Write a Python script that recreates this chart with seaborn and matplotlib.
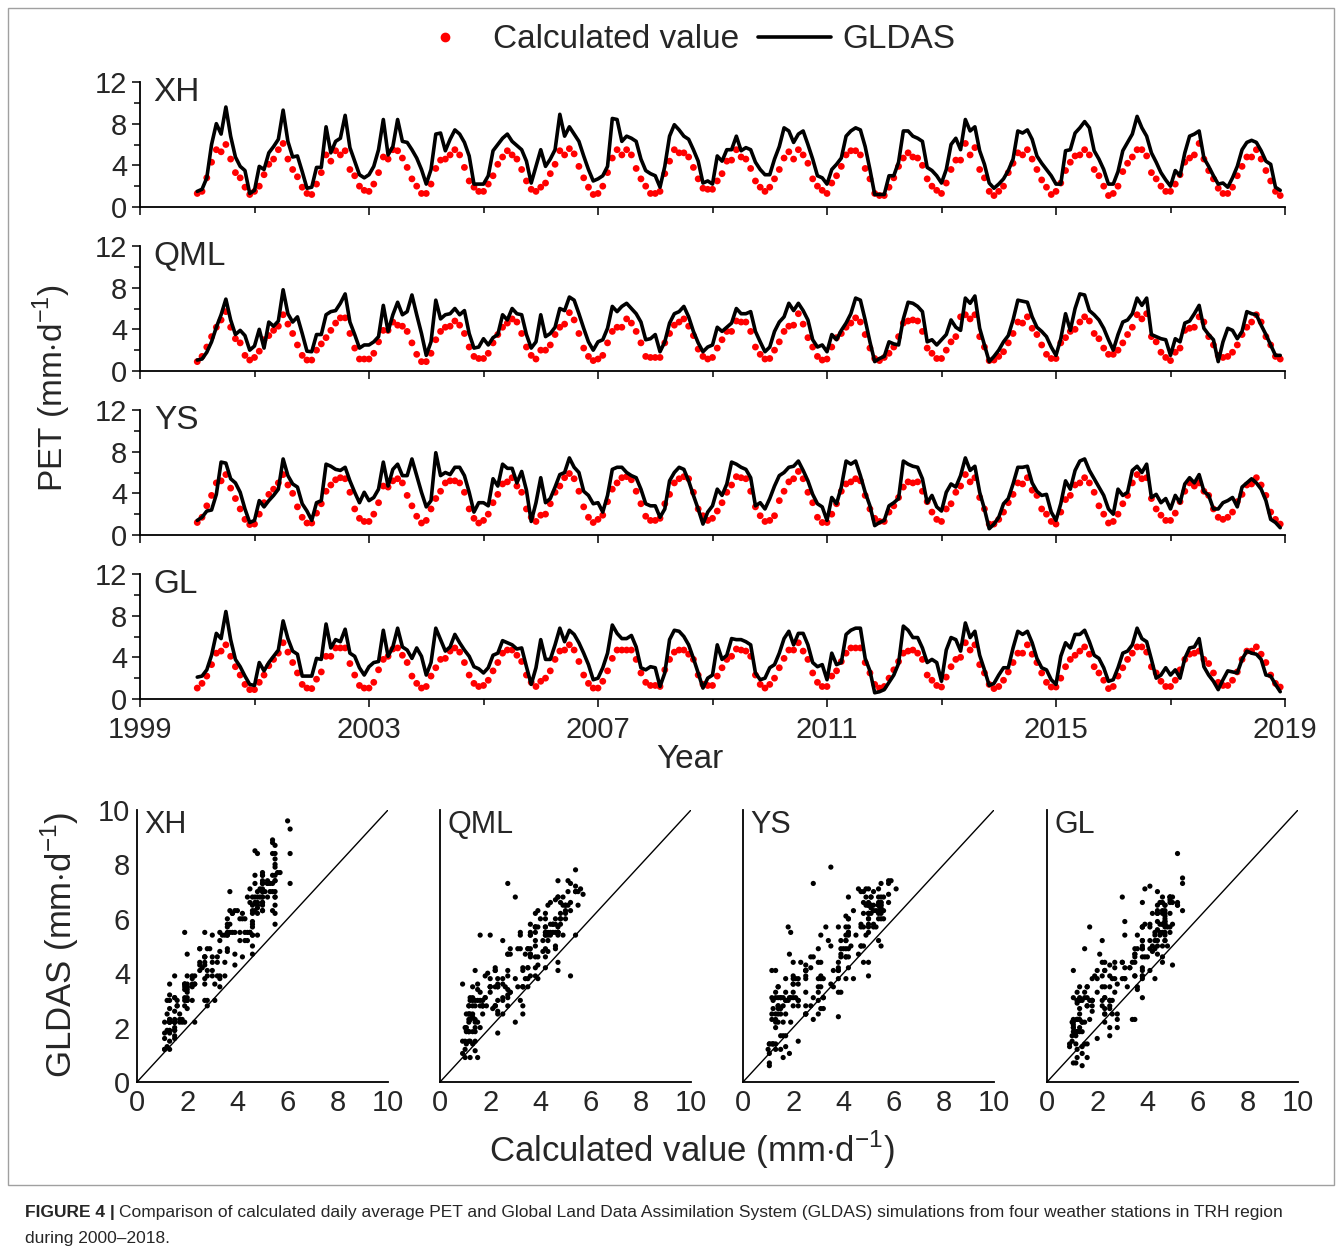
import numpy as np
import pandas as pd
import matplotlib
matplotlib.use("Agg")
import matplotlib.pyplot as plt
from matplotlib.lines import Line2D
from matplotlib.patches import Rectangle
import seaborn as sns

# Monthly PET (mm/d), Jan 2000 - Dec 2018, one row per year
stations = ["XH", "QML", "YS", "GL"]
first_year = 2000

xh_calc = [
    1.3, 1.5, 2.8, 4.3, 5.5, 5.3, 6.0, 4.6, 3.3, 2.8, 1.9, 1.2,
    1.5, 2.0, 3.1, 4.1, 4.6, 5.5, 6.1, 4.6, 3.6, 2.9, 1.9, 1.3,
    1.2, 2.2, 3.3, 5.0, 4.4, 5.4, 5.0, 5.4, 3.6, 3.0, 2.0, 1.6,
    1.5, 2.2, 3.3, 4.8, 4.6, 5.5, 5.4, 4.7, 3.8, 2.7, 2.0, 1.3,
    1.3, 2.2, 3.7, 4.5, 4.6, 5.0, 5.5, 5.0, 3.8, 2.5, 1.9, 1.5,
    1.5, 2.2, 3.0, 4.1, 4.8, 5.4, 5.0, 4.6, 3.6, 2.5, 1.7, 1.5,
    1.9, 2.3, 3.2, 4.1, 5.4, 5.0, 5.6, 5.1, 3.9, 2.8, 1.9, 1.2,
    1.3, 2.0, 3.3, 4.7, 5.5, 5.0, 5.5, 5.0, 3.7, 2.7, 2.0, 1.3,
    1.3, 1.5, 3.2, 4.4, 5.5, 5.2, 5.2, 4.8, 3.8, 2.7, 1.8, 1.7,
    1.7, 2.5, 3.2, 4.4, 4.5, 5.5, 4.8, 4.6, 3.7, 2.5, 1.9, 1.5,
    1.9, 2.7, 3.6, 4.7, 5.3, 4.6, 5.5, 5.0, 4.2, 2.7, 2.0, 1.6,
    1.3, 2.3, 3.0, 3.9, 5.0, 5.4, 5.4, 5.0, 3.7, 2.7, 1.3, 1.1,
    1.1, 1.9, 2.8, 3.9, 4.7, 5.2, 4.8, 4.7, 4.0, 2.7, 2.0, 1.6,
    1.3, 2.3, 3.6, 4.5, 4.5, 6.1, 5.0, 5.7, 3.6, 2.8, 1.5, 1.1,
    1.5, 2.0, 3.3, 4.2, 5.2, 5.0, 5.5, 4.6, 3.6, 2.6, 1.9, 1.2,
    1.5, 2.3, 3.5, 4.3, 4.9, 5.0, 5.5, 5.0, 3.6, 3.0, 2.0, 1.1,
    1.3, 2.0, 3.4, 4.2, 4.8, 5.5, 5.5, 4.9, 3.3, 2.7, 2.0, 1.5,
    1.5, 2.2, 3.1, 4.3, 4.7, 5.0, 6.1, 4.6, 3.5, 2.7, 1.8, 1.3,
    1.3, 1.9, 3.0, 3.9, 4.8, 4.8, 5.5, 4.6, 3.5, 2.5, 1.5, 1.1,
]
xh_gldas = [
    1.5, 1.7, 2.8, 6.0, 8.0, 7.0, 9.6, 6.8, 4.8, 3.9, 3.5, 1.3,
    1.6, 3.9, 3.6, 5.2, 5.8, 6.5, 9.3, 6.3, 4.8, 4.9, 3.4, 1.8,
    1.9, 3.8, 3.8, 7.7, 5.2, 6.3, 6.6, 8.8, 5.7, 4.4, 3.1, 2.8,
    3.1, 3.9, 5.5, 8.4, 5.0, 5.8, 8.4, 6.3, 6.2, 5.5, 4.7, 3.6,
    2.2, 3.6, 7.0, 7.1, 5.4, 6.5, 7.4, 7.0, 6.2, 4.9, 2.2, 2.2,
    2.2, 3.0, 5.4, 6.0, 6.6, 7.0, 6.3, 5.9, 5.5, 4.4, 2.3, 3.9,
    5.5, 3.9, 4.6, 5.5, 8.9, 6.8, 7.7, 7.0, 6.3, 4.9, 3.6, 2.5,
    2.7, 3.0, 3.9, 8.5, 8.4, 6.3, 6.8, 6.6, 6.3, 4.6, 3.5, 3.2,
    3.0, 1.9, 3.9, 6.8, 7.9, 7.4, 6.8, 6.5, 5.5, 4.4, 2.3, 2.5,
    2.2, 4.9, 4.4, 5.5, 5.5, 6.8, 5.4, 5.7, 5.5, 4.3, 3.6, 3.1,
    3.1, 4.6, 5.8, 7.6, 7.3, 6.2, 7.0, 7.3, 6.0, 4.6, 3.0, 2.8,
    2.2, 3.6, 4.1, 4.7, 6.8, 7.3, 7.6, 7.4, 5.8, 3.6, 1.2, 1.2,
    1.2, 3.0, 3.0, 4.3, 7.3, 7.3, 6.8, 6.6, 6.3, 3.8, 3.5, 3.0,
    2.3, 3.6, 6.0, 6.6, 5.5, 8.4, 7.3, 7.7, 5.4, 4.1, 2.3, 1.8,
    2.2, 2.7, 3.5, 4.6, 7.3, 7.1, 7.4, 6.5, 4.9, 4.2, 3.6, 3.0,
    2.2, 2.2, 5.4, 5.5, 7.1, 7.6, 8.2, 7.6, 5.4, 4.6, 3.6, 2.2,
    2.2, 3.4, 5.4, 6.2, 7.0, 8.7, 7.6, 6.8, 5.2, 4.3, 3.3, 2.6,
    2.0, 3.5, 3.0, 5.2, 6.8, 7.0, 7.3, 4.7, 3.9, 3.0, 2.2, 2.3,
    1.9, 2.8, 3.9, 5.5, 6.2, 6.4, 6.2, 5.4, 4.4, 4.1, 1.9, 1.6,
]
qml_calc = [
    0.9, 1.4, 2.3, 3.3, 4.2, 4.9, 5.7, 4.2, 3.1, 2.7, 1.5, 1.05,
    1.3, 1.9, 3.0, 3.4, 3.9, 4.3, 5.4, 4.5, 3.6, 2.5, 1.5, 1.05,
    1.05, 2.0, 2.6, 3.2, 3.9, 4.6, 5.1, 5.1, 3.6, 2.2, 1.15, 1.15,
    1.15, 1.7, 2.8, 3.9, 3.9, 4.7, 4.4, 4.3, 3.8, 2.7, 1.6, 0.9,
    0.9, 1.7, 3.0, 3.8, 4.2, 4.3, 4.8, 4.4, 3.6, 2.3, 1.4, 1.2,
    1.2, 1.7, 2.7, 3.5, 4.2, 4.6, 5.0, 4.7, 3.6, 2.3, 1.5, 1.15,
    2.0, 2.0, 2.5, 3.5, 4.2, 4.5, 5.6, 4.9, 3.6, 2.2, 1.4, 1.0,
    1.15, 1.5, 2.7, 3.8, 4.2, 4.2, 5.0, 4.6, 3.8, 2.7, 1.4, 1.3,
    1.3, 1.3, 2.7, 3.6, 4.4, 4.7, 5.0, 4.3, 3.4, 2.1, 1.4, 1.15,
    1.3, 2.2, 3.0, 3.8, 3.8, 4.8, 4.7, 4.7, 3.8, 2.3, 1.6, 1.15,
    1.2, 2.0, 2.8, 3.8, 4.3, 4.4, 5.5, 4.5, 3.2, 2.3, 1.4, 1.05,
    1.15, 2.3, 3.2, 3.6, 4.2, 4.6, 5.1, 4.7, 3.5, 2.2, 1.2, 1.0,
    1.3, 1.7, 2.3, 3.3, 4.6, 4.8, 4.9, 4.8, 3.8, 2.2, 1.7, 1.2,
    1.2, 2.0, 2.8, 3.3, 5.2, 5.4, 5.0, 5.4, 3.3, 2.3, 1.0, 1.05,
    1.4, 1.85, 2.7, 3.6, 4.7, 4.6, 5.2, 4.1, 3.5, 2.5, 1.6, 1.2,
    1.2, 2.7, 3.2, 3.8, 4.0, 4.7, 5.2, 4.8, 3.6, 3.1, 2.2, 1.6,
    1.6, 2.0, 2.7, 3.5, 4.2, 5.4, 5.0, 5.5, 3.3, 2.8, 1.8, 1.3,
    1.0, 1.8, 2.2, 3.9, 4.1, 4.2, 5.2, 4.7, 3.3, 2.5, 1.5, 1.3,
    1.4, 1.8, 2.5, 3.5, 4.2, 4.7, 5.4, 4.7, 3.3, 2.5, 1.4, 1.15,
]
qml_gldas = [
    1.05, 1.15, 1.8, 2.8, 4.2, 5.4, 6.9, 4.9, 3.5, 3.9, 3.4, 2.0,
    2.4, 4.0, 2.2, 4.7, 4.3, 4.8, 7.8, 5.5, 4.7, 5.2, 3.6, 1.9,
    1.85, 3.5, 3.5, 5.4, 5.7, 5.8, 6.5, 7.4, 4.7, 3.5, 2.2, 2.5,
    2.5, 2.8, 3.3, 6.3, 3.8, 5.4, 6.6, 5.4, 5.7, 7.3, 5.4, 3.6,
    1.5, 2.8, 6.8, 5.0, 5.4, 5.5, 6.0, 5.4, 5.8, 3.6, 2.2, 2.3,
    3.1, 2.5, 3.2, 3.5, 5.4, 4.9, 6.0, 5.5, 5.4, 3.5, 2.2, 2.8,
    5.4, 3.3, 3.6, 4.2, 6.0, 5.8, 7.1, 6.8, 5.5, 4.1, 2.8, 2.0,
    2.8, 3.0, 4.1, 6.2, 5.7, 6.2, 6.5, 6.0, 5.5, 4.7, 3.0, 3.1,
    3.5, 1.85, 2.8, 4.6, 5.5, 5.7, 6.2, 5.2, 3.8, 2.7, 1.85, 2.3,
    2.5, 4.2, 3.8, 4.2, 4.6, 6.0, 5.5, 5.5, 5.7, 3.8, 2.8, 1.85,
    2.3, 3.8, 4.7, 5.2, 6.5, 5.8, 6.5, 5.8, 4.9, 3.0, 2.3, 2.5,
    1.85, 3.5, 3.0, 3.9, 4.6, 5.5, 7.0, 6.8, 4.9, 2.8, 0.9, 1.2,
    1.4, 2.8, 2.6, 2.5, 5.0, 6.6, 6.5, 6.2, 5.7, 2.8, 3.0, 2.5,
    3.0, 3.5, 4.9, 4.2, 3.9, 7.0, 6.5, 7.2, 4.1, 2.5, 0.9, 1.4,
    2.0, 2.8, 3.4, 4.9, 6.8, 6.7, 6.6, 5.2, 4.2, 3.8, 3.3, 2.3,
    1.5, 3.1, 5.5, 3.9, 6.0, 7.4, 7.3, 5.8, 5.4, 4.9, 4.1, 3.0,
    2.0, 3.5, 4.7, 4.9, 5.5, 7.0, 6.3, 7.0, 3.5, 3.3, 3.1, 3.0,
    1.5, 3.1, 2.8, 4.6, 4.8, 5.5, 6.3, 4.1, 3.5, 3.0, 0.9, 2.8,
    4.1, 3.9, 3.1, 3.8, 5.7, 5.5, 5.4, 4.4, 3.5, 2.5, 1.5, 1.5,
]
ys_calc = [
    1.2, 1.7, 2.8, 3.8, 5.0, 5.2, 5.8, 4.5, 3.5, 2.5, 1.5, 1.0,
    1.05, 2.0, 3.1, 3.9, 4.4, 5.0, 5.8, 4.8, 4.0, 2.7, 1.7, 1.15,
    1.15, 2.1, 3.0, 4.2, 4.8, 5.3, 5.5, 5.4, 4.1, 2.5, 1.6, 1.3,
    1.3, 2.0, 3.1, 4.7, 4.6, 5.2, 5.4, 5.0, 3.8, 2.8, 1.8, 1.15,
    1.4, 2.5, 3.5, 4.2, 5.0, 5.2, 5.2, 5.0, 4.1, 2.5, 1.6, 1.15,
    1.4, 2.0, 3.1, 3.9, 4.9, 5.1, 5.5, 4.7, 4.1, 2.5, 1.7, 1.3,
    1.9, 2.0, 3.0, 4.1, 4.7, 5.5, 5.9, 5.4, 4.2, 2.7, 1.7, 1.2,
    1.5, 1.9, 3.2, 4.4, 5.0, 5.5, 5.6, 5.3, 4.2, 3.0, 1.8, 1.4,
    1.4, 1.6, 3.0, 3.9, 5.0, 5.4, 5.6, 5.4, 4.1, 2.5, 1.85, 1.4,
    1.6, 2.3, 3.1, 4.1, 4.8, 5.6, 5.5, 5.4, 4.2, 2.7, 1.85, 1.3,
    1.4, 1.85, 3.3, 4.2, 5.1, 5.4, 6.1, 5.4, 4.1, 3.1, 1.7, 1.2,
    1.2, 2.0, 3.0, 4.2, 4.9, 5.1, 5.4, 5.2, 3.8, 2.5, 1.6, 1.3,
    1.3, 2.2, 2.8, 3.6, 4.6, 5.1, 5.0, 5.1, 4.2, 3.2, 2.2, 1.5,
    1.3, 2.5, 3.0, 4.1, 4.7, 5.8, 5.1, 5.5, 3.6, 2.5, 1.05, 1.05,
    1.5, 2.2, 3.1, 3.9, 5.0, 4.9, 5.5, 4.3, 3.8, 2.5, 2.0, 1.3,
    1.05, 2.2, 3.4, 3.8, 4.8, 5.0, 5.5, 5.0, 4.1, 2.8, 2.0, 1.15,
    1.3, 2.0, 3.0, 3.8, 5.0, 5.8, 5.4, 5.5, 3.5, 2.5, 1.9, 1.4,
    1.4, 2.1, 3.2, 4.2, 5.0, 4.7, 5.0, 4.2, 3.8, 2.5, 1.7, 1.5,
    1.7, 2.2, 3.2, 3.9, 4.8, 4.9, 5.5, 4.8, 3.8, 2.2, 1.5, 1.05,
]
ys_gldas = [
    1.4, 1.7, 2.3, 2.4, 3.9, 7.0, 6.9, 5.4, 5.0, 4.1, 2.5, 1.2,
    1.4, 3.3, 2.7, 3.3, 3.8, 4.4, 7.3, 5.7, 4.9, 4.6, 3.0, 2.3,
    1.4, 3.1, 3.3, 6.8, 6.6, 6.3, 6.2, 6.5, 5.2, 4.1, 3.1, 4.1,
    3.3, 3.6, 4.4, 7.0, 4.7, 6.3, 6.8, 5.7, 5.7, 7.3, 5.7, 4.1,
    2.7, 3.3, 7.9, 5.7, 6.0, 5.8, 6.5, 6.5, 5.7, 4.1, 2.2, 3.1,
    3.1, 2.8, 5.4, 4.7, 6.8, 6.4, 6.4, 5.0, 6.1, 4.3, 1.3, 3.1,
    5.5, 3.1, 3.5, 4.6, 5.8, 6.0, 7.4, 6.5, 6.0, 4.2, 3.8, 3.0,
    3.1, 2.2, 3.8, 6.3, 6.5, 6.5, 6.0, 5.7, 5.5, 4.4, 3.0, 2.8,
    2.8, 1.7, 2.5, 5.2, 6.0, 6.5, 6.3, 5.2, 3.8, 2.5, 1.05, 2.2,
    2.8, 4.4, 3.8, 4.9, 7.0, 6.8, 6.5, 6.3, 5.5, 2.8, 3.1, 2.5,
    3.5, 4.7, 5.7, 6.0, 6.5, 6.6, 7.1, 6.2, 5.2, 3.9, 3.0, 2.7,
    1.4, 3.6, 3.0, 4.6, 7.1, 6.8, 7.1, 5.7, 4.1, 2.8, 0.9, 1.2,
    1.4, 2.8, 3.1, 3.5, 7.1, 6.8, 6.6, 6.5, 5.4, 3.1, 3.8, 2.7,
    2.3, 4.1, 4.9, 4.6, 5.7, 7.4, 6.2, 6.6, 4.1, 2.5, 0.6, 1.05,
    1.7, 3.0, 3.5, 4.9, 6.5, 6.5, 6.6, 5.0, 4.2, 3.8, 3.9, 2.2,
    1.4, 3.0, 5.2, 4.4, 6.2, 7.1, 7.3, 6.2, 5.4, 4.6, 3.8, 2.5,
    2.0, 4.4, 3.8, 4.1, 6.2, 6.6, 6.0, 6.8, 3.6, 3.9, 3.1, 3.5,
    2.5, 3.8, 3.1, 4.9, 5.5, 5.0, 5.8, 4.2, 3.8, 2.5, 2.5, 3.1,
    3.3, 3.6, 2.7, 4.6, 5.0, 5.4, 5.0, 4.4, 3.3, 1.5, 1.2, 0.7,
]
gl_calc = [
    1.05, 1.5, 2.2, 3.3, 4.4, 4.6, 5.2, 4.1, 3.1, 2.3, 1.4, 0.9,
    0.9, 1.6, 2.3, 3.2, 3.8, 4.4, 5.4, 4.5, 3.5, 2.5, 1.4, 1.05,
    1.0, 1.9, 2.6, 4.1, 4.1, 4.9, 4.9, 4.9, 3.4, 2.3, 1.3, 1.05,
    1.05, 1.6, 2.8, 3.8, 4.1, 4.8, 4.9, 4.2, 3.5, 2.2, 1.5, 1.05,
    1.2, 2.2, 3.0, 3.8, 3.9, 4.6, 4.9, 4.5, 3.5, 2.3, 1.5, 1.2,
    1.3, 1.8, 2.7, 3.5, 4.4, 4.7, 4.7, 4.2, 3.6, 2.3, 1.6, 1.2,
    1.7, 2.0, 2.7, 3.8, 4.6, 4.7, 5.2, 4.7, 3.6, 2.3, 1.5, 1.05,
    1.05, 1.7, 2.7, 3.9, 4.7, 4.7, 4.7, 4.7, 3.8, 2.5, 1.6, 1.3,
    1.3, 1.2, 2.8, 3.8, 4.5, 4.7, 4.7, 4.3, 3.8, 2.3, 1.4, 1.3,
    1.3, 2.2, 3.0, 3.8, 4.1, 4.8, 4.7, 4.6, 4.1, 2.3, 1.4, 1.05,
    1.4, 2.0, 3.0, 3.9, 4.7, 4.7, 5.4, 4.6, 3.8, 2.5, 1.6, 1.2,
    1.2, 2.2, 2.7, 3.6, 4.4, 4.9, 4.9, 4.9, 3.5, 2.5, 1.4, 1.05,
    1.2, 2.0, 2.8, 3.6, 4.4, 4.6, 4.7, 4.4, 3.8, 2.3, 1.8, 1.3,
    1.15, 2.1, 3.1, 3.8, 4.0, 5.4, 4.7, 5.2, 3.3, 2.5, 1.4, 1.0,
    1.2, 1.8, 2.6, 3.5, 4.4, 4.4, 5.2, 4.3, 3.5, 2.5, 1.6, 1.15,
    1.15, 2.0, 3.1, 3.8, 4.2, 4.6, 5.0, 4.3, 3.1, 2.5, 1.8, 1.0,
    1.2, 2.2, 3.0, 3.8, 4.4, 5.0, 5.0, 4.5, 3.1, 2.5, 1.7, 1.2,
    1.2, 1.8, 2.8, 3.8, 4.3, 4.4, 4.6, 3.8, 3.4, 2.5, 1.6, 1.3,
    1.3, 1.8, 2.6, 3.8, 4.6, 4.6, 5.0, 4.3, 3.5, 2.3, 1.5, 1.15,
]
gl_gldas = [
    2.1, 2.2, 2.8, 4.2, 6.3, 5.8, 8.4, 5.7, 3.8, 3.1, 2.2, 1.4,
    1.3, 3.5, 2.7, 3.5, 4.1, 4.7, 7.5, 5.8, 4.6, 4.3, 2.2, 2.2,
    2.2, 3.9, 3.8, 7.2, 4.9, 5.7, 5.5, 6.7, 4.4, 4.1, 3.0, 2.3,
    3.1, 3.5, 3.6, 6.6, 4.1, 5.0, 6.8, 5.0, 4.7, 3.9, 4.9, 4.1,
    2.3, 3.5, 6.8, 5.7, 4.6, 5.0, 6.2, 5.4, 4.7, 4.1, 3.1, 2.9,
    2.5, 3.0, 4.2, 4.4, 5.6, 5.4, 5.2, 4.8, 4.9, 3.1, 1.4, 3.0,
    5.7, 3.8, 3.8, 5.2, 6.8, 5.5, 6.6, 6.2, 5.4, 4.4, 3.3, 1.85,
    2.0, 3.0, 4.4, 7.1, 6.3, 5.8, 5.8, 6.1, 5.0, 3.0, 2.8, 3.1,
    3.0, 1.2, 2.5, 5.7, 6.6, 6.5, 6.0, 5.2, 3.9, 2.5, 1.05, 2.0,
    2.3, 5.2, 3.8, 4.2, 5.8, 5.7, 5.7, 5.5, 5.2, 2.5, 1.85, 2.0,
    3.0, 3.3, 4.4, 5.8, 6.5, 5.2, 6.3, 6.3, 5.2, 3.5, 3.1, 3.3,
    1.85, 4.4, 3.3, 3.5, 6.2, 6.6, 6.8, 6.8, 3.9, 2.7, 0.6, 0.7,
    0.9, 1.6, 2.3, 3.4, 7.0, 6.6, 5.9, 5.9, 4.9, 3.5, 3.8, 3.5,
    1.7, 4.7, 5.9, 5.7, 4.6, 7.3, 5.9, 6.5, 4.2, 2.8, 1.3, 1.5,
    2.3, 3.0, 3.0, 4.9, 6.5, 6.2, 6.5, 5.4, 3.9, 3.0, 2.8, 1.85,
    1.4, 4.1, 5.4, 4.9, 6.2, 6.2, 6.6, 5.5, 4.2, 3.9, 3.0, 1.7,
    1.85, 3.0, 4.4, 4.6, 5.2, 6.8, 5.8, 5.5, 3.8, 2.0, 2.3, 3.0,
    2.3, 2.8, 2.0, 3.9, 4.9, 5.0, 5.8, 3.1, 2.3, 1.7, 0.9, 1.85,
    2.7, 2.6, 2.5, 3.8, 4.6, 4.4, 4.3, 3.8, 2.3, 2.2, 1.4, 0.7,
]

calc_series = [xh_calc, qml_calc, ys_calc, gl_calc]
gldas_series = [xh_gldas, qml_gldas, ys_gldas, gl_gldas]

sns.set_theme(style="ticks")
plt.rcParams["font.family"] = ["Liberation Sans", "DejaVu Sans"]
plt.rcParams["mathtext.fontset"] = "custom"
plt.rcParams["mathtext.rm"] = "Liberation Sans"
plt.rcParams["axes.linewidth"] = 1.3
plt.rcParams["axes.edgecolor"] = "black"

# month index -> decimal year
month_idx = np.arange(len(xh_calc))
year_pos = first_year + month_idx / 12.0

frames = []
for name, calc, gldas in zip(stations, calc_series, gldas_series):
    frames.append(pd.DataFrame({"station": name, "year": year_pos,
                                "calc": calc, "gldas": gldas}))
df = pd.concat(frames, ignore_index=True)

W, H = 1342, 1254
fig = plt.figure(figsize=(W / 100, H / 100), dpi=100)


def px_axes(x0, y0, x1, y1):
    return fig.add_axes([x0 / W, 1 - y1 / H, (x1 - x0) / W, (y1 - y0) / H])


FS = 21
unit = r"(mm$\cdot$d$^{\mathregular{-1}}$)"

# time series panels
ts_tops = [82, 246, 410, 574]
for k, name in enumerate(stations):
    top = ts_tops[k]
    ax = px_axes(140, top, 1285, top + 125)
    d = df[df["station"] == name]
    sns.scatterplot(data=d, x="year", y="calc", color="red", s=24,
                    edgecolor="none", ax=ax, zorder=2, legend=False)
    sns.lineplot(data=d, x="year", y="gldas", color="black", lw=2.6,
                 ax=ax, zorder=3, errorbar=None, legend=False)
    ax.set_xlim(1999, 2019)
    ax.set_ylim(0, 12)
    ax.set_xticks(range(1999, 2020, 4))
    ax.set_xticks(range(2001, 2020, 4), minor=True)
    ax.set_yticks([0, 4, 8, 12])
    ax.set_yticks([2, 6, 10], minor=True)
    ax.tick_params(which="major", direction="out", length=6, width=1.3,
                   labelsize=FS, pad=3)
    ax.tick_params(axis="x", which="major", pad=6)
    ax.tick_params(which="minor", direction="out", length=4, width=1.3)
    ax.set_xlabel("")
    ax.set_ylabel("")
    if k < 3:
        ax.tick_params(labelbottom=False)
    sns.despine(ax=ax)
    ax.spines["left"].set_bounds(0, 12)
    ax.text(0.012, 1.04, name, transform=ax.transAxes, ha="left", va="top",
            fontsize=24)

fig.text(52 / W, 1 - 388 / H, "PET " + unit, rotation=90, ha="center",
         va="center", fontsize=24)
fig.text(690 / W, 1 - 760 / H, "Year", ha="center", va="center", fontsize=24)

handles = [Line2D([], [], marker="o", color="red", linestyle="none", markersize=6),
           Line2D([], [], color="black", lw=2.6)]
fig.legend(handles, ["Calculated value", "GLDAS"], loc="center",
           bbox_to_anchor=(682 / W, 1 - 40 / H), ncol=2, frameon=False,
           fontsize=24, handlelength=2.2, handletextpad=0.35,
           columnspacing=0.55, borderpad=0)

# scatter panels
sc_lefts = [137, 440, 743, 1047]
for k, name in enumerate(stations):
    left = sc_lefts[k]
    ax = px_axes(left, 810, left + 251, 1082)
    d = df[df["station"] == name]
    sns.scatterplot(data=d, x="calc", y="gldas", color="black", s=14,
                    edgecolor="none", ax=ax, legend=False)
    ax.plot([0, 10], [0, 10], color="black", lw=1.0)
    ax.set_xlim(0, 10)
    ax.set_ylim(0, 10)
    ax.set_xticks(range(0, 11, 2))
    ax.set_yticks(range(0, 11, 2))
    ax.tick_params(length=0, labelsize=FS, pad=5)
    if k > 0:
        ax.tick_params(labelleft=False)
    ax.set_xlabel("")
    ax.set_ylabel("")
    sns.despine(ax=ax)
    ax.text(0.3, 9.45, name, ha="left", va="center", fontsize=22)

fig.text(60 / W, 1 - 945 / H, "GLDAS " + unit, rotation=90, ha="center",
         va="center", fontsize=25)
fig.text(692 / W, 1 - 1150 / H, "Calculated value " + unit, ha="center",
         va="center", fontsize=25)

# frame around figure
fig.add_artist(Rectangle((8 / W, 1 - 1185 / H), (1334 - 8) / W, (1185 - 8) / H,
                         transform=fig.transFigure, fill=False,
                         edgecolor="#a0a0a0", lw=1.0))

# caption
cap_fs = 12.5
y1 = 1 - 1213 / H
t = fig.text(25 / W, y1, "FIGURE 4 |", fontsize=cap_fs, fontweight="bold",
             va="center", ha="left")
fig.canvas.draw()
bb = t.get_window_extent()
fig.text((bb.x1 + 4) / W, y1,
         "Comparison of calculated daily average PET and Global Land Data "
         "Assimilation System (GLDAS) simulations from four weather stations "
         "in TRH region",
         fontsize=cap_fs, va="center", ha="left")
fig.text(25 / W, 1 - 1238 / H, "during 2000\u20132018.", fontsize=cap_fs,
         va="center", ha="left")

fig.savefig("out.png", dpi=100)
